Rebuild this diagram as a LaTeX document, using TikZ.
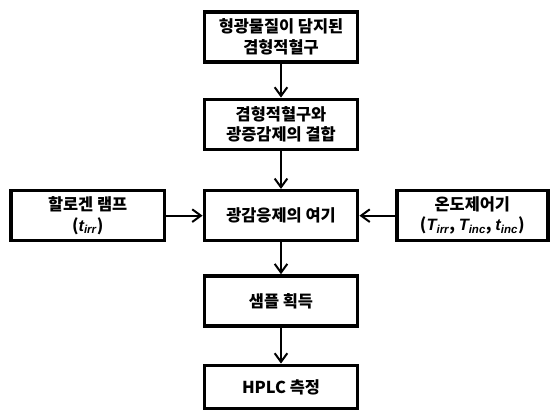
\documentclass[tikz,border=0pt]{standalone}
\usepackage{fontspec}
\setmainfont{Noto Sans CJK KR}
\newfontfamily\varfont{Liberation Sans}
\usetikzlibrary{calc,arrows.meta}

\newcommand{\varsym}[2]{{\varfont\bfseries\itshape #1\textsubscript{#2}}}

\begin{document}
\begin{tikzpicture}[
    boite/.style={draw, line width=3pt, minimum width=4.6cm, minimum height=1.5cm,
        align=center, font=\fontsize{14}{17.5}\selectfont\bfseries, inner sep=2pt},
    fleche/.style={line width=1.7pt, -{Straight Barb[length=2.6mm,width=3.8mm,line width=1.7pt]}}
    ]
    \useasboundingbox (0,0) rectangle (16.53,12.33);

    % colonne centrale
    \node[boite] (guide) at (8.43,11.22) {형광물질이 담지된\\겸형적혈구};
    \node[boite] (liaison) at (8.43,8.6) {겸형적혈구와\\광증감제의 결합};
    \node[boite] (excit) at (8.43,5.86) {광감응제의 여기};
    \node[boite] (sample) at (8.43,3.3) {샘플 획득};
    \node[boite, minimum height=1.3cm] (hplc) at (8.43,0.72) {HPLC 측정};

    % entrees laterales
    \node[boite] (lampe) at (2.63,5.86) {할로겐 램프\\(\varsym{t}{irr})};
    \node[boite, minimum width=4.53cm] (temp) at (14.17,5.86)
        {온도제어기\\(\varsym{T}{irr}, \varsym{T}{inc}, \varsym{t}{inc})};

    \draw[fleche] (guide) -- (liaison);
    \draw[fleche] (liaison) -- (excit);
    \draw[fleche] (lampe) -- (excit);
    \draw[fleche] (temp) -- (excit);
    \draw[fleche] (excit) -- (sample);
    \draw[fleche] (sample) -- (hplc);

\end{tikzpicture}
\end{document}
